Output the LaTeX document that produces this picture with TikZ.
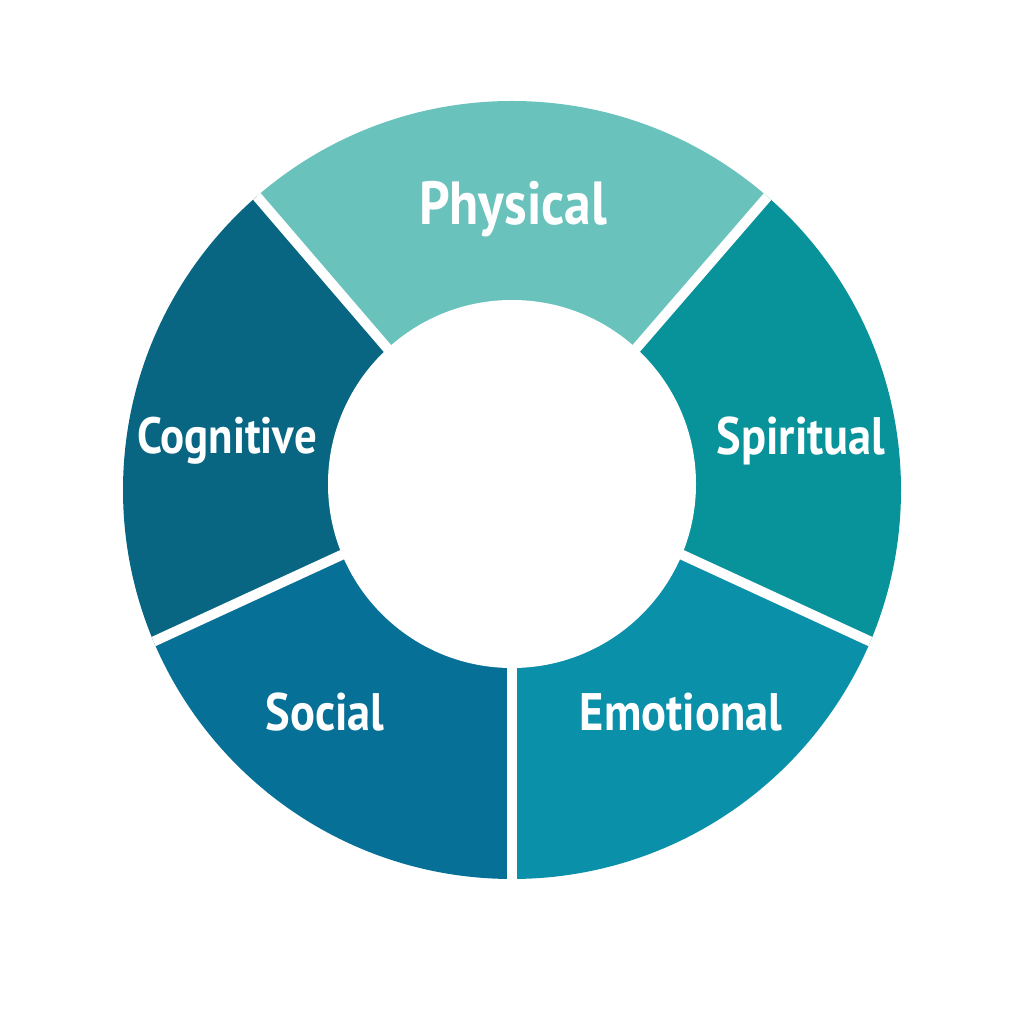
\documentclass[tikz,border=0pt]{standalone}
\usepackage{fontspec}
\setmainfont[FakeStretch=0.88]{PT Sans}
\definecolor{cphys}{HTML}{69C3BC}
\definecolor{cspir}{HTML}{08929A}
\definecolor{cemo}{HTML}{0B90AA}
\definecolor{csoc}{HTML}{077097}
\definecolor{ccog}{HTML}{086683}
\begin{document}
\begin{tikzpicture}[x=0.01cm,y=0.01cm,
  lbl/.style={text=white,font=\bfseries\fontsize{15}{17}\selectfont},
  biglbl/.style={text=white,font=\bfseries\fontsize{17.3}{19}\selectfont},
  gap/.style={white,line width=0.1cm}]
\useasboundingbox (0,0) rectangle (1024,1024);
\fill[white] (0,0) rectangle (1024,1024);
\coordinate (c) at (512,534);
\coordinate (ci) at (512,540);
% gap lines: inner and far points
\coordinate (g1a) at (460,591); \coordinate (g1f) at (10,1115);
\coordinate (g2a) at (563,591); \coordinate (g2f) at (1013,1111);
\coordinate (g3a) at (600,507); \coordinate (g3f) at (1260,203);
\coordinate (g4a) at (424,507); \coordinate (g4f) at (-236,203);
\coordinate (g5a) at (512,470); \coordinate (g5f) at (512,-200);
\begin{scope}
\clip (c) circle[radius=389];
\fill[cphys] (ci) -- (g1a) -- (g1f) -- (g2f) -- (g2a) -- cycle;
\fill[cspir] (ci) -- (g2a) -- (g2f) -- (1300,1111) -- (1300,203) -- (g3f) -- (g3a) -- cycle;
\fill[cemo] (ci) -- (g3a) -- (g3f) -- (1260,-200) -- (g5f) -- (g5a) -- cycle;
\fill[csoc] (ci) -- (g5a) -- (g5f) -- (-236,-200) -- (g4f) -- (g4a) -- cycle;
\fill[ccog] (ci) -- (g4a) -- (g4f) -- (-236,1115) -- (g1f) -- (g1a) -- cycle;
\draw[gap] (g1a) -- (g1f);
\draw[gap] (g2a) -- (g2f);
\draw[gap] (g3a) -- (g3f);
\draw[gap] (g4a) -- (g4f);
\draw[gap] (g5a) -- (g5f);
\end{scope}
% hole
\fill[white] (ci) circle[radius=184];
% labels
\node[biglbl] (tphys) at (513,815) {Physical};
\node[lbl] (tspir) at (801,583) {Spiritual};
\node[lbl,font=\bfseries\fontsize{14.5}{17}\selectfont] (tcog) at (227,583) {Cognitive};
\node[lbl] (tsoc) at (325,312) {Social};
\node[lbl] (temo) at (681,312) {Emotional};
\end{tikzpicture}
\end{document}
